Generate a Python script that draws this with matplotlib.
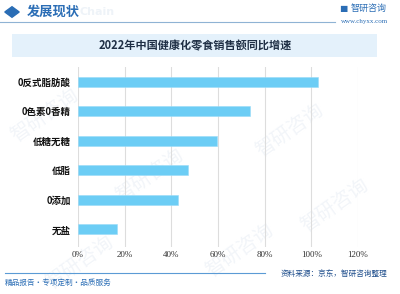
import matplotlib
matplotlib.use('Agg')
import matplotlib.pyplot as plt
from matplotlib.patches import Rectangle, RegularPolygon
from matplotlib.ticker import FuncFormatter

plt.rcParams['font.family'] = ['Noto Sans CJK SC', 'DejaVu Sans']

# data, top to bottom as drawn
categories = ['0反式脂肪酸', '0色素0香精', '低糖无糖', '低脂', '0添加', '无盐']
growth = [102.8, 73.7, 59.7, 47.0, 42.7, 16.8]
xticks = [0, 20, 40, 60, 80, 100, 120]
title = '2022年中国健康化零食销售额同比增速'

W, H = 400, 294
fig = plt.figure(figsize=(W / 100, H / 100), dpi=100)
fig.patch.set_facecolor('white')

def fx(px):
    return px / W

def fy(py):
    return 1 - py / H

# faint watermarks (behind everything)
for (x, y) in [(45, 115), (150, 175), (290, 130), (80, 262), (240, 250), (335, 205)]:
    fig.text(fx(x), fy(y), '智研咨询', fontsize=14, color='#f2f5f9', rotation=35,
             ha='center', va='center', zorder=-10)

# header
fig.patches.append(RegularPolygon((fx(12), fy(12)), 4, radius=0.018, orientation=0,
                                  transform=fig.transFigure, color='#2a6db5', figure=fig))
fig.text(fx(27), fy(12), '发展现状', fontsize=9.5, fontweight='bold', color='#2a6db5',
         va='center', ha='left')
fig.text(fx(80), fy(12), 'Chain', fontsize=8, fontweight='bold', color='#eef3f8',
         va='center', ha='left', family='DejaVu Sans', zorder=-5)
fig.add_artist(plt.Line2D([0, fx(335)], [fy(22), fy(22)], color='#8fb3d4', lw=0.8))
fig.text(fx(343), fy(8), '▆', fontsize=6, color='#2a6db5', va='center', ha='center',
         family='DejaVu Sans')
fig.text(fx(351), fy(8), '智研咨询', fontsize=6.5, color='#2a6db5', va='center', ha='left')
fig.text(fx(388), fy(21), 'www.chyxx.com', fontsize=5, color='#2a6db5', va='center',
         ha='right', family='Liberation Serif')

# title box
fig.patches.append(Rectangle((fx(12), fy(57)), fx(365), 23 / H, transform=fig.transFigure,
                             facecolor='#e4f1fb', edgecolor='none', figure=fig))
fig.text(fx(195), fy(45.5), title, fontsize=8, fontweight='bold', color='#1f2f45',
         ha='center', va='center')

# chart
ax = fig.add_axes([fx(78), fy(247), fx(280), 180 / H])
ax.set_facecolor('none')
ax.set_zorder(2)
pos = list(range(len(categories)))[::-1]
ax.barh(pos, growth, height=0.34, color='#6ccdf5', edgecolor='#9adcf8', lw=0.4, zorder=3)
ax.set_xlim(0, 120)
ax.set_ylim(-0.6, 5.5)
ax.set_xticks(xticks)
ax.xaxis.set_major_formatter(FuncFormatter(lambda v, p: f'{int(v)}%'))
ax.set_yticks(pos)
ax.set_yticklabels(categories, fontsize=6.8, fontweight='bold', color='#111111')
ax.grid(axis='x', color='#dddddd', lw=0.8, zorder=0)
for s in ax.spines.values():
    s.set_visible(False)
ax.tick_params(length=0)
ax.tick_params(axis='x', labelsize=6.5, colors='#333333', pad=3)
ax.tick_params(axis='y', pad=5)
for lab in ax.get_xticklabels():
    lab.set_family('Liberation Serif')

# footer
fig.add_artist(plt.Line2D([fx(5), fx(265)], [fy(273), fy(273)], color='#5b9bd5', lw=0.8))
fig.text(fx(5), fy(283), '精品报告・专项定制・品质服务', fontsize=5.5, color='#2a6db5',
         va='center', ha='left')
fig.text(fx(387), fy(274), '资料来源：京东，智研咨询整理', fontsize=5.5, color='#1f4e8c',
         va='center', ha='right')

fig.savefig('out.png', dpi=100)
